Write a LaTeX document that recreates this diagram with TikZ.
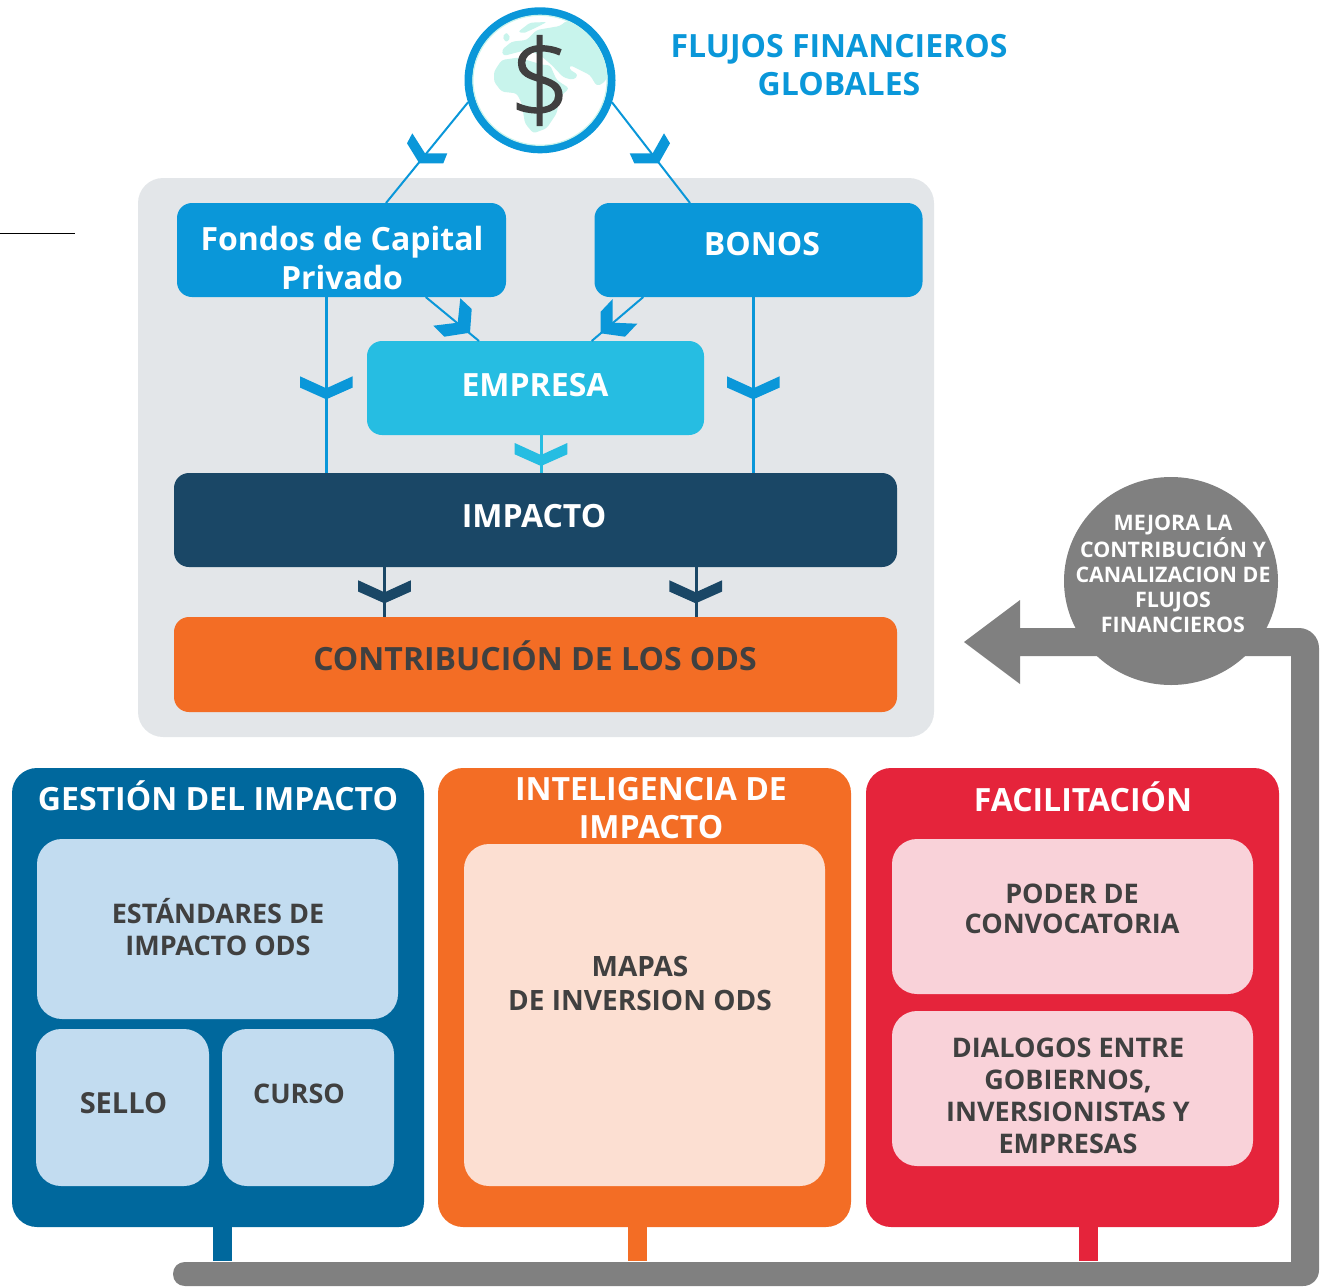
\documentclass[tikz,border=0pt]{standalone}
\usepackage{fontspec}
\setmainfont{Open Sans}
\newfontfamily\lightfont[FakeBold=1.4]{Open Sans Light}
\usetikzlibrary{shapes.geometric,calc}
\definecolor{cblue}{HTML}{0A97D9}
\definecolor{ccyan}{HTML}{26BDE2}
\definecolor{cnavy}{HTML}{1A4766}
\definecolor{corange}{HTML}{F36D25}
\definecolor{cred}{HTML}{E5243B}
\definecolor{cdeep}{HTML}{00689D}
\definecolor{cpanel}{HTML}{E3E6E9}
\definecolor{cgray}{HTML}{808080}
\definecolor{ctext}{HTML}{404040}
\definecolor{cpaleblue}{HTML}{C2DCF0}
\definecolor{cpaleorange}{HTML}{FCDFD2}
\definecolor{cpalered}{HTML}{F9D2D9}
\definecolor{cteal}{HTML}{C8F4EC}
\tikzset{
  panelbox/.style={rectangle,rounded corners=#1,inner sep=0pt,outer sep=0pt},
  panelbox/.default=15pt,
  lab/.style={font=\bfseries\fontsize{#1}{#1}\selectfont,align=center,inner sep=0pt},
  conn/.style={line width=2pt},
  stem/.style={line width=19pt},
  chevfill/.style={draw=none}
}
% vertical chevron: tip at (x,y)
\newcommand\chev[3]{\fill[#3] (#1-26.3,#2-11.7) -- (#1-26.3,#2-23) -- (#1,#2-11) -- (#1+26.3,#2-23) -- (#1+26.3,#2-11.7) -- (#1,#2) -- cycle;}
\begin{document}
\begin{tikzpicture}[x=1pt,y=-1pt]
\useasboundingbox (0,0) rectangle (1320,1286);
% stray rule
\coordinate (ruleA) at (0,233.5);
\coordinate (ruleB) at (75,233.5);
\draw[line width=1pt,black] (ruleA) -- (ruleB);
% panel
\node[panelbox=25pt,fill=cpanel,minimum width=796pt,minimum height=559pt] (panel) at (536,457.5) {};
% boxes
\node[panelbox,fill=cblue,minimum width=329pt,minimum height=94pt] (fondos) at (341.5,250) {};
\node[panelbox,fill=cblue,minimum width=328pt,minimum height=94pt] (bonos) at (758.5,250) {};
\node[panelbox,fill=ccyan,minimum width=337pt,minimum height=94pt] (empresa) at (535.5,388) {};
\node[panelbox,fill=cnavy,minimum width=723pt,minimum height=94pt] (impacto) at (535.5,520) {};
\node[panelbox,fill=corange,minimum width=723pt,minimum height=95pt] (contrib) at (535.5,664.5) {};
% globe
\node[ellipse,draw=cblue,line width=8pt,fill=white,minimum width=143pt,minimum height=138pt,inner sep=0pt,outer sep=4pt] (globe) at (540,80.3) {};
\begin{scope}
\clip (540,80.3) ellipse (67.5pt and 65.5pt);
\begin{scope}[shift={(370,0)},x=0.33333pt,y=-0.33333pt]
\fill[cteal,rounded corners=3pt] (372,215) -- (395,180) -- (450,172) -- (470,180) -- (520,195) -- (540,195) -- (560,240) -- (598,265) -- (570,290) -- (560,340) -- (530,385) -- (490,400) -- (465,370) -- (455,310) -- (440,280) -- (395,275) -- (372,245) -- cycle;
\fill[cteal,rounded corners=3pt] (395,150) -- (425,125) -- (470,120) -- (500,90) -- (570,78) -- (590,62) -- (640,70) -- (690,130) -- (720,220) -- (700,250) -- (680,258) -- (660,225) -- (620,205) -- (600,195) -- (597,207) -- (625,225) -- (610,240) -- (580,232) -- (545,195) -- (510,165) -- (470,150) -- (430,160) -- (400,168) -- cycle;
\fill[cteal,rounded corners=2pt] (397,110) -- (410,97) -- (422,115) -- (408,127) -- cycle;
\fill[cteal,rounded corners=2pt] (445,95) -- (480,68) -- (530,66) -- (500,82) -- (460,100) -- cycle;
\end{scope}
\end{scope}
\draw[cteal,line width=1.2pt] (540,80.3) ellipse (67pt and 65pt);
\node[font=\lightfont\fontsize{110}{110}\selectfont,text=ctext,inner sep=0pt] (dollar) at (540,80.5) {\$};
% connectors
\draw[conn,cblue] (globe.197) -- (386,0 |- fondos.north);
\draw[conn,cblue] (globe.343) -- (690,0 |- bonos.north);
\draw[conn,cblue] (425.7,0 |- fondos.south) -- (479,0 |- empresa.north);
\draw[conn,cblue] (643.3,0 |- bonos.south) -- (591.7,0 |- empresa.north);
\draw[line width=2.4pt,cblue] (326.3,0 |- fondos.south) -- (326.3,0 |- impacto.north);
\draw[line width=2.4pt,cblue] (753.5,0 |- bonos.south) -- (753.5,0 |- impacto.north);
\draw[line width=2.4pt,ccyan] (541.5,0 |- empresa.south) -- (541.5,0 |- impacto.north);
\draw[line width=2.4pt,cnavy] (384.5,0 |- impacto.south) -- (384.5,0 |- contrib.north);
\draw[line width=2.4pt,cnavy] (696.5,0 |- impacto.south) -- (696.5,0 |- contrib.north);
% chevrons
\chev{326.3}{399.3}{cblue}
\chev{753.3}{399.3}{cblue}
\chev{541}{466}{ccyan}
\chev{384.5}{603.3}{cnavy}
\chev{695.7}{603.3}{cnavy}
\fill[cblue] (412.3,133.3) -- (407,143.3) -- (419.3,163.3) -- (443.3,163.3) -- (447.3,153.3) -- (425,153.3) -- cycle;
\fill[cblue] (664,133.3) -- (670,143.3) -- (658.7,163.3) -- (634.3,163.3) -- (629.7,153.3) -- (652.7,153.3) -- cycle;
\fill[cblue] (460.3,298.3) -- (471.7,309) -- (470,332.7) -- (444.3,336.7) -- (433.3,325.7) -- (457.7,322.7) -- cycle;
\fill[cblue] (612.7,299) -- (600.7,311.7) -- (600.7,333.3) -- (625,336.7) -- (637.3,323.7) -- (612.7,322.7) -- cycle;
% labels top
\node[lab=32,text=cblue] (ttl) at (839,65.5) {FLUJOS FINANCIEROS\\[6pt]GLOBALES};
\node[lab=32,text=white] (l1) at (342,258) {Fondos de Capital\\[6.5pt]Privado};
\node[lab=32,text=white] at (762,244) {BONOS};
\node[lab=32,text=white] at (535,385) {EMPRESA};
\node[lab=32,text=white] at (534,516) {IMPACTO};
\node[lab=32,text=ctext] at (535,656) {CONTRIBUCIÓN DE LOS ODS};
% bottom columns
\node[panelbox=25pt,fill=cdeep,minimum width=412pt,minimum height=459pt] (gest) at (218,997.5) {};
\node[panelbox=25pt,fill=corange,minimum width=413pt,minimum height=459pt] (intel) at (644.5,997.5) {};
\node[panelbox=25pt,fill=cred,minimum width=413pt,minimum height=459pt] (facil) at (1072.5,997.5) {};
\node[panelbox=25pt,fill=cpaleblue,minimum width=361pt,minimum height=180pt] (estand) at (217.5,929) {};
\node[panelbox=25pt,fill=cpaleblue,minimum width=173pt,minimum height=157pt] (sello) at (122.5,1107.5) {};
\node[panelbox=25pt,fill=cpaleblue,minimum width=172pt,minimum height=157pt] (curso) at (308,1107.5) {};
\node[panelbox=25pt,fill=cpaleorange,minimum width=361pt,minimum height=342pt] (mapas) at (644.5,1015) {};
\node[panelbox=25pt,fill=cpalered,minimum width=361pt,minimum height=155pt] (poder) at (1072.5,916.5) {};
\node[panelbox=25pt,fill=cpalered,minimum width=361pt,minimum height=155pt] (dial) at (1072.5,1088.5) {};
\node[lab=32,text=white] at (218,796) {GESTIÓN DEL IMPACTO};
\node[lab=32,text=white] at (651,808.5) {INTELIGENCIA DE\\[6pt]IMPACTO};
\node[lab=32,text=white] at (1083,797) {FACILITACIÓN};
\node[lab=27,text=ctext] at (218,927.5) {ESTÁNDARES DE\\[5pt]IMPACTO ODS};
\node[lab=29,text=ctext] at (123.5,1103) {SELLO};
\node[lab=27,text=ctext] at (299,1094) {CURSO};
\node[lab=28,text=ctext] at (640,983) {MAPAS\\[6pt]DE INVERSION ODS};
\node[lab=27,text=ctext] at (1072,908.5) {PODER DE\\[3pt]CONVOCATORIA};
\node[lab=27,text=ctext] at (1068,1095.5) {DIALOGOS ENTRE\\[5pt]GOBIERNOS,\\[5pt]INVERSIONISTAS Y\\[5pt]EMPRESAS};
% feedback bar
\fill[cgray] (964,642) -- (1020,600) -- (1020,628) -- (1299,628) .. controls (1310,628) and (1319,637) .. (1319,648) -- (1319,1270) .. controls (1319,1279) and (1312,1286) .. (1303,1286) -- (185,1286) .. controls (178,1286) and (173,1281) .. (173,1274) .. controls (173,1267) and (178,1262) .. (185,1262) -- (1291,1262) -- (1291,656) -- (1020,656) -- (1020,684) -- cycle;
\coordinate (barA) at (222.5,1261);
\coordinate (barB) at (637.5,1261);
\coordinate (barC) at (1088.5,1261);
\draw[stem,cdeep] (222.5,0 |- gest.south) -- (barA);
\draw[stem,corange] (637.5,0 |- intel.south) -- (barB);
\draw[stem,cred] (1088.5,0 |- facil.south) -- (barC);
\node[ellipse,fill=cgray,minimum width=214pt,minimum height=208pt,inner sep=0pt] (mejora) at (1171,581) {};
\node[lab=21.4,text=white] at (1173,574.3) {MEJORA LA\\[1.6pt]CONTRIBUCIÓN Y\\[3.6pt]CANALIZACION DE\\[3.6pt]FLUJOS\\[3.6pt]FINANCIEROS};
\end{tikzpicture}
\end{document}
